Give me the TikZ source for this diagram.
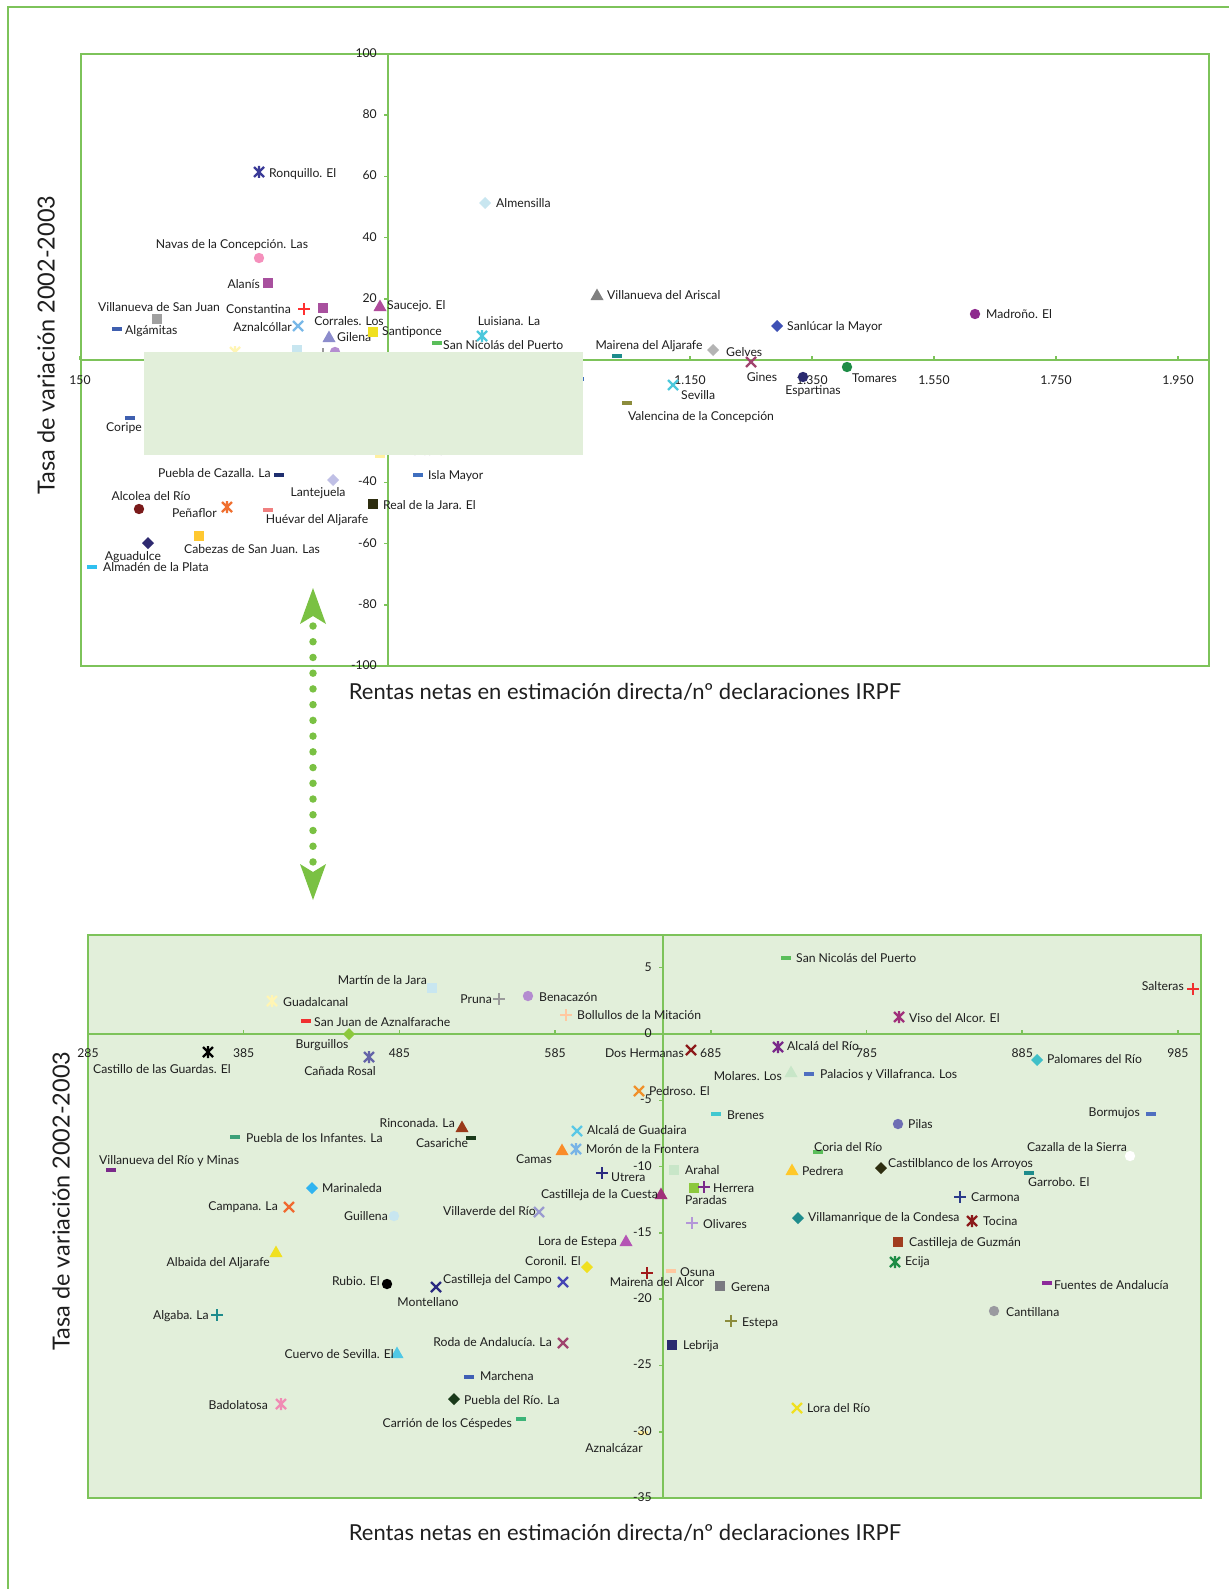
\documentclass[tikz,border=0pt]{standalone}
\usepackage{fontspec}
\setmainfont{Lato}
\definecolor{gr}{HTML}{7DC35A}
\definecolor{ar}{HTML}{7AC143}
\definecolor{bgp}{HTML}{E2EFDA}
\definecolor{tx}{HTML}{1E1E1E}
\tikzset{
  gline/.style={draw=gr, line width=2.5pt},
  gtick/.style={draw=gr, line width=1.5pt},
  lbl/.style={inner sep=0pt, text=tx, font=\fontsize{12.2}{14}\selectfont, text height=8.8pt, text depth=1.9pt},
  ttl/.style={inner sep=0pt, text=tx, font=\fontsize{22}{26}\selectfont},
  ttly/.style={inner sep=0pt, text=tx, font=\fontsize{23.5}{27}\selectfont},
  mSq/.pic={\fill (-5,-5) rectangle (5,5);},
  mCi/.pic={\fill (0,0) circle (5.2pt);},
  mDi/.pic={\fill (0,-6) -- (6,0) -- (0,6) -- (-6,0) -- cycle;},
  mTr/.pic={\fill (0,-6.5) -- (6.5,5) -- (-6.5,5) -- cycle;},
  mX/.pic={\draw[line width=2.4pt] (-5,-5) -- (5,5) (-5,5) -- (5,-5);},
  mPl/.pic={\draw[line width=2.4pt] (-6,0) -- (6,0) (0,-6) -- (0,6);},
  mSt/.pic={\draw[line width=2.4pt] (-5,-5) -- (5,5) (-5,5) -- (5,-5) (0,-6) -- (0,6);},
  mDa/.pic={\fill (-5,-2) rectangle (5,2);}
}
\newcommand\M[4]{\definecolor{mkc}{HTML}{#2}\pic[color=mkc] at (#3,#4) {#1};}
\newcommand\LB[5]{\node[lbl,anchor=#2] (#1) at (#3,#4) {#5};}
\begin{document}
\begin{tikzpicture}[x=1pt,y=-1pt]
\useasboundingbox (0,0) rectangle (1229,1589);
% outer frame
\draw[gline] (8,1589) -- (8,7) -- (1229,7);

% ================= TOP CHART =================
\draw[gline, fill=white] (81,54) rectangle (1209,666);
\draw[gline] (388,54) -- (388,666);
\draw[gline] (81,360) -- (1209,360);
\foreach \i in {0,...,9} {\draw[gtick] ({80+\i*122},356) -- ({80+\i*122},360);}
\foreach \v in {100,80,60,40,20,0,-20,-40,-60,-80,-100} {\draw[gtick] (384,{360-\v*3.06}) -- (388,{360-\v*3.06});}
\foreach \v in {100,80,60,40,20,0,-20,-40,-60,-80,-100} {\node[lbl,anchor=east] (ty\v) at (377,{360-\v*3.06}) {\v};}
\foreach \i/\t in {0/150,1/350,2/550,3/750,4/950,5/1.150,6/1.350,7/1.550,8/1.750,9/1.950} {\node[lbl] (tx\i) at ({80+\i*122},381) {\t};}

\M{mSt}{3B3B98}{259}{172} \LB{a1}{west}{269}{174}{Ronquillo. El}
\M{mCi}{F590BC}{259}{258} \LB{a2}{center}{232}{245}{Navas de la Concepción. Las}
\M{mSq}{A8509E}{268}{283} \LB{a3}{east}{260}{285}{Alanís}
\M{mSq}{A0A0A0}{157}{319} \LB{a4}{center}{159}{308}{Villanueva de San Juan}
\M{mDa}{3F5FAF}{117}{329} \LB{a5}{west}{125}{331}{Algámitas}
\M{mPl}{FF3030}{304}{309} \LB{a6}{east}{291}{310}{Constantina}
\M{mSq}{A8509E}{323}{308} \LB{a7}{center}{349}{322}{Corrales. Los}
\M{mX}{78B8E8}{298}{326} \LB{a8}{east}{292}{328}{Aznalcóllar}
\M{mTr}{8C8CCC}{329}{337} \LB{a9}{west}{337}{338}{Gilena}
\M{mSq}{F0E020}{373}{332} \LB{a10}{west}{382}{332}{Santiponce}
\M{mTr}{B04C9C}{380}{306} \LB{a11}{west}{387}{306}{Saucejo. El}
\M{mSt}{FFF5B4}{235}{352}
\M{mSq}{C8E6F0}{297}{350}
\M{mPl}{9A9A9A}{323}{354}
\M{mCi}{B48CD0}{335}{352}
\M{mPl}{FFC8A0}{350}{358}
\M{mDa}{5ABE5A}{437}{343} \LB{a12}{west}{443}{346}{San Nicolás del Puerto}
\M{mSt}{4CC8DC}{482}{336} \LB{a13}{center}{509}{322}{Luisiana. La}
\M{mDi}{C8E6F0}{485}{203} \LB{a14}{west}{496}{204}{Almensilla}
\M{mTr}{808080}{597}{295} \LB{a15}{west}{607}{296}{Villanueva del Ariscal}
\M{mDa}{1E8C8C}{617}{356} \LB{a16}{center}{649}{346}{Mairena del Aljarafe}
\M{mDi}{B4B4B4}{713}{350} \LB{a17}{west}{726}{353}{Gelves}
\M{mX}{A0446E}{751}{362} \LB{a18}{center}{762}{378}{Gines}
\M{mDi}{3F51B5}{777}{326} \LB{a19}{west}{787}{327}{Sanlúcar la Mayor}
\M{mCi}{8E2A8E}{975}{314} \LB{a20}{west}{986}{315}{Madroño. El}
\M{mCi}{2A2A70}{803}{377} \LB{a21}{center}{813}{391}{Espartinas}
\M{mCi}{1E8C46}{847}{367} \LB{a22}{west}{852}{379}{Tomares}
\M{mX}{4CC8DC}{673}{385} \LB{a23}{west}{681}{396}{Sevilla}
\M{mDa}{8C8C3C}{627}{403} \LB{a24}{center}{701}{417}{Valencina de la Concepción}
\M{mDa}{3F6FBF}{579}{379}
\M{mDa}{3F5FAF}{130}{418} \LB{a26}{center}{124}{428}{Coripe}
\M{mDa}{1F2F6F}{279}{475} \LB{a27}{east}{271}{474}{Puebla de Cazalla. La}
\M{mDi}{C0C0E6}{333}{480} \LB{a28}{center}{318}{493}{Lantejuela}
\M{mCi}{7A1A1A}{139}{509} \LB{a29}{center}{151}{497}{Alcolea del Río}
\M{mSt}{F07030}{227}{507} \LB{a30}{east}{217}{514}{Peñaflor}
\M{mDa}{F08080}{268}{510} \LB{a31}{center}{317}{520}{Huévar del Aljarafe}
\M{mSq}{2E2E10}{373}{504} \LB{a32}{west}{383}{506}{Real de la Jara. El}
\M{mDa}{3F6FBF}{418}{475} \LB{a33}{west}{428}{476}{Isla Mayor}
\M{mDa}{FFF0A0}{380}{456} \LB{a34}{west}{392}{452}{Aznalcázar}
\M{mDi}{2E2A70}{148}{543} \LB{a35}{center}{133}{557}{Aguadulce}
\M{mSq}{FFC830}{199}{536} \LB{a36}{center}{252}{550}{Cabezas de San Juan. Las}
\M{mDa}{30C0F0}{92}{567} \LB{a37}{west}{103}{568}{Almadén de la Plata}
% overlay patch
\fill[bgp] (144,352) rectangle (583,455);

\node[ttly, rotate=90] (ytitle1) at (46,345) {Tasa de variación 2002-2003};
\node[ttl] (xtitle1) at (625,692) {Rentas netas en estimación directa/nº declaraciones IRPF};

% ================= ARROW =================
\coordinate (dTop) at (313,626);
\coordinate (dBot) at (313,862);
\coordinate (hT) at (313,588);
\coordinate (hB) at (313,900);
\draw[ar, line width=7.5pt, line cap=round, dash pattern=on 0pt off 15.73pt] (dTop) -- (dBot);
\fill[ar] (hT) -- ++(13,36) -- ++(-13,-8) -- ++(-13,8) -- cycle;
\fill[ar] (hB) -- ++(13,-36) -- ++(-13,8) -- ++(-13,-8) -- cycle;

% ================= BOTTOM CHART =================
\draw[gline, fill=bgp] (88,935) rectangle (1201,1498);
\draw[gline] (663,935) -- (663,1498);
\draw[gline] (88,1034) -- (1201,1034);
\foreach \i in {0,...,7} {\draw[gtick] ({88+\i*155.7},1030) -- ({88+\i*155.7},1034);}
\foreach \v in {5,0,-5,-10,-15,-20,-25,-30,-35} {\draw[gtick] (659,{1034-\v*13.26}) -- (663,{1034-\v*13.26});}

\M{mSq}{C8E6F0}{432}{988} \LB{b1}{east}{427}{981}{Martín de la Jara}
\M{mPl}{9A9A9A}{499}{999} \LB{b2}{east}{492}{1000}{Pruna}
\M{mSt}{FFF5B4}{272}{1001} \LB{b3}{west}{283}{1003}{Guadalcanal}
\M{mDa}{F03030}{306}{1021} \LB{b4}{west}{314}{1023}{San Juan de Aznalfarache}
\M{mDi}{8CC83C}{349}{1034} \LB{b5}{center}{322}{1045}{Burguillos}
\M{mSt}{000000}{208}{1052} \LB{b6}{west}{93}{1070}{Castillo de las Guardas. El}
\M{mSt}{6464A8}{369}{1057} \LB{b7}{center}{340}{1072}{Cañada Rosal}
\M{mTr}{9A3A1A}{462}{1127} \LB{b8}{east}{455}{1124}{Rinconada. La}
\M{mDa}{1A3A1A}{471}{1138} \LB{b9}{center}{442}{1144}{Casariche}
\M{mDa}{3CA078}{235}{1137} \LB{b10}{west}{246}{1139}{Puebla de los Infantes. La}
\M{mDa}{7A2A8A}{111}{1170} \LB{b11}{west}{99}{1161}{Villanueva del Río y Minas}
\M{mDi}{30B4F0}{312}{1188} \LB{b12}{west}{322}{1189}{Marinaleda}
\M{mX}{F06A30}{289}{1207} \LB{b13}{east}{278}{1207}{Campana. La}
\M{mCi}{C8E6F0}{394}{1216} \LB{b14}{east}{388}{1217}{Guillena}
\M{mX}{9A9AD0}{539}{1212} \LB{b15}{east}{536}{1212}{Villaverde del Río}
\M{mCi}{B48CD0}{528}{996} \LB{b16}{west}{539}{998}{Benacazón}
\M{mPl}{FFC8A0}{566}{1015} \LB{b17}{west}{577}{1016}{Bollullos de la Mitación}
\M{mDa}{5ABE5A}{786}{958} \LB{b18}{west}{796}{959}{San Nicolás del Puerto}
\M{mX}{8C1A1A}{691}{1050} \LB{b19}{east}{684}{1054}{Dos Hermanas}
\M{mSt}{7A2A8A}{778}{1047} \LB{b20}{west}{787}{1047}{Alcalá del Río}
\M{mTr}{C8E6C8}{791}{1072} \LB{b21}{east}{782}{1077}{Molares. Los}
\M{mDa}{4F6FC0}{809}{1074} \LB{b22}{west}{820}{1075}{Palacios y Villafranca. Los}
\M{mX}{F0902A}{639}{1091} \LB{b23}{west}{649}{1092}{Pedroso. El}
\M{mDa}{40C8D0}{716}{1114} \LB{b24}{west}{727}{1116}{Brenes}
\M{mX}{5AC8E6}{577}{1131} \LB{b25}{west}{587}{1131}{Alcalá de Guadaira}
\M{mTr}{FA8C28}{562}{1150} \LB{b26}{east}{552}{1160}{Camas}
\M{mSt}{78B4E6}{576}{1149} \LB{b27}{west}{586}{1150}{Morón de la Frontera}
\M{mPl}{2A2A80}{602}{1173} \LB{b28}{west}{611}{1178}{Utrera}
\M{mSq}{C8E6C8}{674}{1170} \LB{b29}{west}{685}{1171}{Arahal}
\M{mDa}{5ABE5A}{818}{1152} \LB{b30}{west}{814}{1148}{Coria del Río}
\M{mTr}{FFC828}{792}{1170} \LB{b31}{west}{802}{1172}{Pedrera}
\M{mSq}{8CC83C}{694}{1188} \LB{b32}{west}{685}{1201}{Paradas}
\M{mPl}{7A2A8A}{704}{1187} \LB{b33}{west}{713}{1189}{Herrera}
\M{mTr}{A0307A}{661}{1194} \LB{b34}{east}{658}{1195}{Castilleja de la Cuesta}
\M{mPl}{B496D8}{692}{1223} \LB{b35}{west}{703}{1225}{Olivares}
\M{mDi}{1E8C8C}{798}{1218} \LB{b36}{west}{808}{1218}{Villamanrique de la Condesa}
\M{mTr}{B455B4}{626}{1241} \LB{b37}{east}{617}{1242}{Lora de Estepa}
\M{mPl}{F03030}{1193}{989} \LB{b38}{east}{1184}{987}{Salteras}
\M{mSt}{A0307A}{899}{1017} \LB{b39}{west}{909}{1019}{Viso del Alcor. El}
\M{mDi}{40C0C8}{1037}{1060} \LB{b40}{west}{1047}{1060}{Palomares del Río}
\M{mDa}{4F6FC0}{1151}{1114} \LB{b41}{east}{1140}{1113}{Bormujos}
\M{mCi}{6E6EB4}{898}{1124} \LB{b42}{west}{908}{1125}{Pilas}
\M{mCi}{FFFFFF}{1130}{1156} \LB{b43}{center}{1077}{1148}{Cazalla de la Sierra}
\M{mDi}{2E2E10}{881}{1168} \LB{b44}{west}{888}{1164}{Castilblanco de los Arroyos}
\M{mDa}{1E8C8C}{1029}{1173} \LB{b45}{west}{1028}{1183}{Garrobo. El}
\M{mPl}{2A3A8A}{960}{1197} \LB{b46}{west}{971}{1198}{Carmona}
\M{mSt}{8C1A1A}{972}{1221} \LB{b47}{west}{983}{1222}{Tocina}
\M{mSq}{A03C1E}{898}{1242} \LB{b48}{west}{909}{1243}{Castilleja de Guzmán}
\M{mSt}{1E8C46}{895}{1262} \LB{b49}{west}{905}{1262}{Ecija}
\M{mDa}{8C2A9A}{1047}{1283} \LB{b50}{west}{1054}{1286}{Fuentes de Andalucía}
\M{mCi}{9A9AA0}{994}{1311} \LB{b51}{west}{1006}{1313}{Cantillana}
\M{mTr}{F0E020}{276}{1252} \LB{b52}{east}{270}{1263}{Albaida del Aljarafe}
\M{mCi}{000000}{387}{1284} \LB{b53}{east}{380}{1282}{Rubio. El}
\M{mX}{2A2A80}{436}{1287} \LB{b54}{center}{428}{1303}{Montellano}
\M{mX}{4646B4}{563}{1282} \LB{b55}{west}{443}{1280}{Castilleja del Campo}
\M{mPl}{1E8C8C}{217}{1315} \LB{b56}{east}{209}{1316}{Algaba. La}
\M{mTr}{50C8E6}{397}{1353} \LB{b57}{east}{394}{1355}{Cuervo de Sevilla. El}
\M{mX}{A0446E}{563}{1343} \LB{b58}{east}{552}{1343}{Roda de Andalucía. La}
\M{mDa}{3F5FB4}{469}{1377} \LB{b59}{west}{480}{1377}{Marchena}
\M{mDi}{1A3A1A}{454}{1399} \LB{b60}{west}{464}{1401}{Puebla del Río. La}
\M{mSt}{F08CB4}{281}{1404} \LB{b61}{east}{268}{1406}{Badolatosa}
\M{mDa}{3CB478}{521}{1419} \LB{b62}{east}{512}{1424}{Carrión de los Céspedes}
\M{mDa}{FFF0A0}{643}{1433} \LB{b63}{center}{614}{1449}{Aznalcázar}
\M{mDi}{F0E020}{587}{1267} \LB{b64}{east}{581}{1262}{Coronil. El}
\M{mPl}{A01A1A}{647}{1273} \LB{b65}{center}{657}{1283}{Mairena del Alcor}
\M{mDa}{FFC8A0}{671}{1271} \LB{b66}{west}{680}{1273}{Osuna}
\M{mSq}{7A7A80}{720}{1286} \LB{b67}{west}{731}{1288}{Gerena}
\M{mPl}{8C8C3C}{731}{1321} \LB{b68}{west}{742}{1323}{Estepa}
\M{mSq}{2A2A70}{672}{1345} \LB{b69}{west}{683}{1346}{Lebrija}
\M{mX}{F0E020}{797}{1408} \LB{b70}{west}{807}{1409}{Lora del Río}

\foreach \v in {5,0,-5,-10,-15,-20,-25,-30,-35} {\node[lbl,anchor=east] (by\v) at (652,{1034-\v*13.26}) {\v};}
\foreach \i/\t in {0/285,1/385,2/485,3/585,4/685,5/785,6/885,7/985} {\node[lbl] (bx\i) at ({88+\i*155.7},1054) {\t};}

\node[ttly, rotate=90] (ytitle2) at (61,1201) {Tasa de variación 2002-2003};
\node[ttl] (xtitle2) at (625,1533) {Rentas netas en estimación directa/nº declaraciones IRPF};
\end{tikzpicture}
\end{document}
